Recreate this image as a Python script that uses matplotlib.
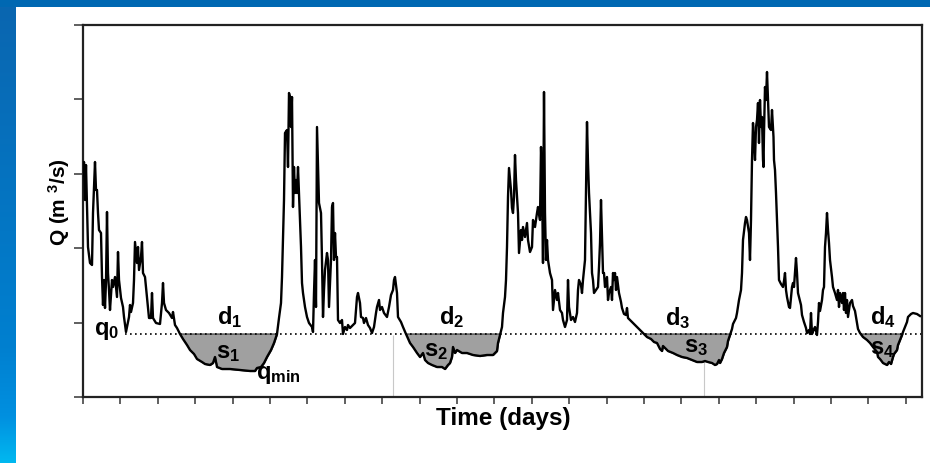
import numpy as np
import matplotlib
matplotlib.use("Agg")
import matplotlib.pyplot as plt
from matplotlib.patches import Rectangle
from matplotlib.colors import LinearSegmentedColormap

# hydrograph (day index, discharge in m3/s, arbitrary scale)
days = [0, 1, 2, 3, 4, 5, 7, 9, 10, 12, 13, 14, 15, 16, 18, 19, 20, 21, 22, 23,
        24, 25, 26, 27, 29, 30, 32, 34, 35, 36, 38, 40, 41, 43, 44, 46, 47, 48, 50, 51,
        52, 54, 55, 56, 58, 59, 60, 62, 64, 66, 68, 69, 70, 73, 77, 79, 80, 81, 83, 86,
        89, 90, 92, 94, 97, 100, 104, 107, 111, 114, 119, 122, 127, 130, 132, 134, 139, 147, 157, 167,
        172, 174, 178, 181, 184, 188, 191, 194, 196, 198, 199, 200, 201, 202, 204, 205, 206, 207, 208, 209,
        210, 211, 212, 213, 214, 215, 216, 218, 219, 220, 222, 224, 226, 229, 230, 231, 232, 233, 234, 236,
        238, 239, 240, 241, 242, 244, 245, 246, 248, 249, 250, 251, 252, 253, 254, 255, 257, 259, 260, 262,
        264, 265, 267, 270, 272, 274, 275, 277, 278, 280, 281, 283, 285, 287, 289, 291, 293, 294, 296, 297,
        299, 301, 304, 306, 308, 310, 311, 312, 314, 315, 318, 320, 323, 327, 330, 334, 337, 340, 342, 345,
        349, 354, 359, 362, 365, 367, 369, 370, 372, 374, 379, 384, 390, 397, 404, 410, 414, 415, 417, 419,
        420, 422, 423, 424, 425, 426, 428, 429, 430, 431, 432, 433, 434, 435, 436, 438, 439, 440, 442, 444,
        445, 447, 449, 450, 452, 454, 455, 457, 458, 459, 460, 461, 462, 463, 464, 465, 467, 469, 470, 472,
        474, 475, 477, 479, 480, 482, 484, 485, 486, 488, 490, 492, 494, 495, 496, 498, 499, 500, 502, 503,
        504, 505, 506, 508, 509, 510, 511, 513, 515, 516, 517, 518, 519, 520, 521, 522, 524, 525, 526, 528,
        529, 530, 531, 532, 533, 534, 536, 538, 539, 541, 543, 544, 545, 548, 551, 554, 558, 561, 564, 568,
        571, 574, 576, 577, 579, 580, 582, 585, 590, 594, 599, 604, 609, 614, 619, 622, 625, 629, 632, 634,
        636, 637, 639, 641, 644, 645, 647, 649, 650, 653, 654, 656, 658, 659, 660, 662, 663, 664, 666, 667,
        668, 669, 670, 671, 672, 673, 674, 675, 676, 677, 678, 679, 680, 680.5, 681, 682, 683, 684, 685, 686,
        688, 689, 690, 690.5, 691, 692, 693, 694, 695, 696, 698, 700, 701, 702, 703, 704, 706, 707, 709, 710,
        711, 713, 714, 715, 716, 718, 719, 721, 723, 724, 726, 727, 728, 729, 731, 732, 734, 735, 736, 737,
        739, 740, 741, 742, 743, 744, 745, 746, 747, 749, 750, 752, 754, 755, 756, 757, 759, 760, 761, 762,
        763, 764, 765, 767, 769, 770, 772, 774, 775, 777, 780, 784, 787, 790, 794, 795, 797, 800, 804, 806,
        808, 810, 811, 814, 815, 817, 819, 820, 822, 824, 825, 828, 830, 834, 837]
flow = [22.2, 23.5, 19.7, 23.2, 19.2, 15.0, 13.4, 13.2, 18.4, 23.5, 20.7, 20.7, 18.4, 16.7, 16.4, 12.0, 9.2, 11.7, 8.9, 11.5,
        18.5, 12.4, 10.7, 8.7, 11.7, 11.0, 12.0, 10.0, 14.5, 11.7, 9.9, 9.0, 8.0, 6.5, 7.0, 8.0, 9.2, 8.5, 9.4, 11.7,
        15.5, 13.4, 15.0, 12.7, 14.0, 15.5, 12.4, 12.0, 10.0, 7.9, 7.9, 10.4, 7.9, 7.4, 7.3, 9.4, 11.4, 9.4, 8.7, 8.4,
        7.9, 8.5, 7.2, 6.9, 6.3, 5.8, 5.2, 4.7, 4.3, 3.8, 3.5, 3.3, 3.2, 3.4, 4.0, 3.0, 2.8, 2.8, 2.7, 2.6,
        2.6, 2.9, 3.0, 3.4, 4.0, 4.7, 5.4, 6.3, 7.9, 9.4, 12.0, 15.7, 19.7, 26.4, 26.7, 23.0, 30.4, 30.0, 27.0, 30.0,
        19.0, 23.0, 20.4, 21.7, 20.4, 23.0, 20.4, 15.0, 11.4, 10.4, 9.0, 8.0, 7.4, 7.0, 6.5, 10.4, 13.7, 9.0, 27.0, 19.4,
        18.4, 13.7, 8.0, 10.7, 12.7, 14.4, 13.7, 9.0, 13.7, 19.0, 19.4, 13.7, 16.4, 14.0, 14.0, 7.7, 7.4, 7.7, 6.3, 7.0,
        6.7, 7.2, 6.9, 7.2, 7.4, 10.0, 10.4, 9.4, 8.0, 7.9, 7.4, 7.9, 7.2, 6.9, 6.4, 7.0, 8.4, 9.0, 9.7, 8.7,
        9.0, 8.4, 8.0, 9.0, 10.2, 10.7, 11.7, 12.0, 10.4, 8.0, 7.5, 7.0, 6.3, 5.4, 5.0, 4.4, 4.0, 4.4, 3.7, 3.4,
        3.2, 3.0, 3.0, 2.8, 3.2, 3.4, 4.0, 5.0, 4.4, 4.7, 4.4, 4.4, 4.2, 4.1, 4.2, 4.2, 4.6, 5.4, 6.2, 7.0,
        8.4, 10.0, 11.7, 15.0, 20.0, 22.9, 20.7, 18.9, 18.4, 20.0, 24.2, 21.7, 20.0, 18.4, 14.4, 16.7, 15.7, 17.0, 16.0, 17.4,
        15.7, 14.5, 15.0, 17.7, 17.0, 18.4, 19.0, 17.7, 25.0, 21.7, 13.4, 30.5, 18.4, 13.7, 15.7, 13.7, 12.4, 11.7, 8.7, 10.7,
        9.7, 10.4, 8.7, 8.4, 7.7, 7.0, 7.7, 11.7, 9.0, 7.7, 8.0, 7.5, 8.4, 10.7, 11.7, 11.2, 10.4, 11.7, 13.7, 21.0,
        27.5, 23.4, 20.4, 16.4, 12.4, 11.7, 10.4, 10.7, 11.0, 13.0, 15.4, 19.7, 16.0, 12.4, 12.4, 11.0, 12.0, 9.7, 10.4, 11.0,
        9.7, 12.4, 11.7, 12.4, 10.7, 12.0, 10.4, 9.5, 8.9, 8.3, 8.2, 8.9, 7.9, 7.6, 7.3, 7.0, 6.6, 6.3, 6.0, 5.8,
        5.5, 5.4, 5.0, 4.8, 4.6, 5.1, 4.9, 4.6, 4.4, 4.2, 4.0, 3.9, 3.7, 3.5, 3.5, 3.6, 3.5, 3.4, 3.2, 3.3,
        3.7, 3.4, 3.8, 4.4, 5.0, 5.6, 6.2, 6.8, 7.3, 7.9, 8.4, 9.7, 10.7, 12.4, 15.7, 17.4, 18.0, 17.7, 16.4, 13.7,
        17.7, 23.7, 27.4, 25.4, 23.7, 27.0, 27.7, 29.4, 25.4, 29.7, 27.0, 28.0, 23.7, 23.0, 26.4, 31.0, 29.7, 32.5, 29.7, 27.0,
        26.7, 28.7, 27.0, 26.0, 23.7, 22.7, 20.4, 17.7, 15.0, 11.7, 11.3, 11.0, 11.6, 12.4, 10.7, 10.0, 9.0, 8.9, 11.0, 11.4,
        11.0, 13.9, 12.4, 10.4, 10.0, 9.2, 8.2, 7.5, 6.9, 6.4, 6.7, 6.3, 8.4, 6.3, 6.8, 7.0, 6.2, 7.5, 9.4, 8.6,
        9.7, 10.7, 11.0, 15.0, 16.4, 18.4, 16.7, 15.4, 13.7, 12.0, 11.0, 10.4, 9.7, 10.7, 9.0, 10.4, 9.4, 10.4, 8.7, 10.4,
        8.4, 9.7, 8.0, 9.4, 9.7, 9.1, 8.6, 7.4, 6.8, 6.4, 6.0, 5.7, 5.4, 5.0, 4.5, 4.0, 3.8, 3.4, 3.2, 3.5,
        3.3, 4.0, 4.3, 4.7, 5.2, 5.7, 6.2, 6.5, 7.0, 7.5, 8.0, 8.3, 8.4, 8.3, 8.1]

q0 = 6.35                           # threshold discharge
drought_start = [97, 323, 561, 777]
drought_end = [194, 417, 647, 819]
marker_days = [310, 621]
marker_tops = [6.2, 3.5]

label_text = ["q$_0$", "d$_1$", "s$_1$", "q$_{min}$", "d$_2$", "s$_2$",
              "d$_3$", "s$_3$", "d$_4$", "s$_4$"]
label_day = [23.5, 147, 145, 195, 369, 353, 595, 613, 800, 799]
label_q = [6.6, 8.0, 4.5, 2.2, 8.0, 4.6, 7.9, 5.1, 8.0, 4.9]

plt.rcParams["font.family"] = ["Liberation Sans", "DejaVu Sans"]
plt.rcParams["font.weight"] = "bold"
plt.rcParams["mathtext.fontset"] = "custom"
plt.rcParams["mathtext.rm"] = "Liberation Sans:bold"
plt.rcParams["mathtext.it"] = "Liberation Sans:bold"
plt.rcParams["mathtext.bf"] = "Liberation Sans:bold"

W, H = 930, 463
fig = plt.figure(figsize=(W / 100, H / 100), dpi=100)
fig.patch.set_facecolor("white")

# slide decoration: blue band on top and a gradient strip on the left
fig.patches.append(Rectangle((0, 1 - 7 / H), 1, 7 / H, transform=fig.transFigure,
                             facecolor="#0068b2", edgecolor="none", zorder=0))
strip = fig.add_axes([0, 0, 15 / W, 1 - 7 / H])
grad = np.linspace(0, 1, 256)[:, None]
cm = LinearSegmentedColormap.from_list("strip", [(0, "#0a66b0"), (0.75, "#0080d0"),
                                                 (0.9, "#0090e0"), (1, "#00b8f0")])
strip.imshow(grad, aspect="auto", cmap=cm, origin="upper")
strip.axis("off")

ax = fig.add_axes([83 / W, 66 / H, 839 / W, 372 / H])
t = np.array(days, dtype=float)
q = np.array(flow)

for s, e in zip(drought_start, drought_end):
    m = (t >= s) & (t <= e)
    ax.fill_between(t, q, q0, where=m & (q <= q0), interpolate=True,
                    facecolor="#a0a0a0", edgecolor="#333333", lw=0.8, zorder=1)

ax.hlines(q0, 42, 838, colors="black", linestyles=(0, (1, 2)), lw=1.2, zorder=2)
ax.vlines(marker_days, 0, marker_tops, colors="#c8c8c8", lw=0.8, zorder=1)
ax.plot(t, q, color="black", lw=1.7, zorder=3)

for txt, x, y in zip(label_text, label_day, label_q):
    ax.text(x, y, txt, fontsize=17, ha="center", va="center", zorder=4)

ax.set_xlim(0, 839)
ax.set_ylim(0, 37.2)
ax.set_xticks(np.arange(0, 838, 37.4))
ax.set_yticks(np.linspace(0, 37.2, 6))
ax.set_xticklabels([])
ax.set_yticklabels([])
ax.tick_params(axis="y", direction="out", length=6.5, width=1.2, color="#444444")
ax.tick_params(axis="x", direction="out", length=5, width=1.2, color="#444444")
for sp in ax.spines.values():
    sp.set_linewidth(1.6)
    sp.set_color("#222222")

fig.text(59 / W, 1 - 202 / H, "Q (m $^3$/s)", rotation=90, ha="center", va="center",
         fontsize=15, fontweight="bold")
fig.text(503 / W, 1 - 418 / H, "Time (days)", ha="center", va="center",
         fontsize=17.5, fontweight="bold")

fig.savefig("out.png", dpi=100)
